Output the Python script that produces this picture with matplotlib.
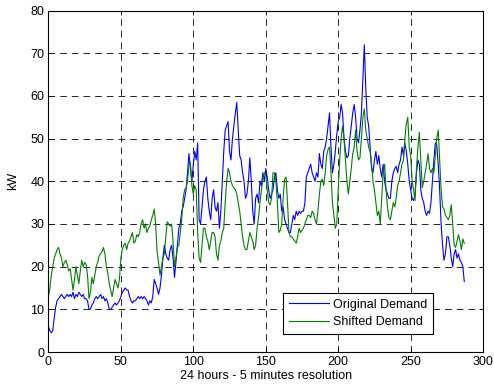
import matplotlib
matplotlib.use("Agg")
import matplotlib.pyplot as plt
import numpy as np

plt.rcParams['font.family'] = ['Liberation Sans', 'DejaVu Sans']

# 5 minute samples over 24 hours
original = [
    6, 5, 4.5, 5, 8, 10.5, 12, 12.5, 13, 13.5, 13, 12.5,
    13, 13.5, 13, 13.5, 13, 14, 12.5, 13.5, 13, 14, 13.5, 13,
    13.5, 12.5, 12.5, 12, 10, 10, 11, 11.5, 12.5, 13, 12.5, 13,
    13.5, 12.5, 13, 12, 12.5, 11.5, 10, 10, 10.5, 11, 11.5, 11,
    11.5, 12, 13, 14, 14.5, 15, 14.5, 14.5, 13, 12, 11.5, 12,
    12, 12.5, 13, 12.5, 13, 12.5, 13, 12.5, 12, 11, 12, 11.5,
    13, 17, 16, 15, 13.5, 15, 18, 22, 25, 23, 22, 21.5,
    24, 25, 22, 17.5, 21, 25, 29, 30, 33, 34, 36, 38,
    42, 46.5, 43, 40, 44, 47, 45, 49, 31, 30, 34, 38,
    40, 41, 36, 33, 31, 36, 38, 34, 33, 35, 29, 33,
    40, 47, 52, 53, 54, 47, 45, 50, 53, 56, 58.5, 52,
    46, 45, 42, 40, 36, 37, 40, 45.5, 40, 33, 30, 36,
    37, 35, 40, 39, 42, 40, 43, 41, 38, 36, 37, 38,
    41, 42, 38, 36, 37, 33, 34, 31, 30, 29, 28, 28,
    30, 32, 31, 33, 32, 33, 32.5, 33, 33, 35, 41, 42,
    43, 44, 42, 41, 40, 42, 41, 46.5, 44, 43, 47, 48,
    50, 53, 56, 48, 42, 44, 47, 51, 54, 55, 58, 56,
    50, 47, 45.5, 46, 50, 53, 56, 58, 55, 50, 49, 52,
    56, 64, 72, 62, 55, 53, 48, 43, 42, 45, 47, 44,
    46, 43, 41, 44, 40, 38, 37, 36, 36, 40, 42, 43,
    43.5, 42, 44, 45, 48, 46, 49, 47, 44, 40, 38, 36,
    35.5, 37, 42, 45, 44, 38, 36, 35, 33, 32, 33, 32.5,
    35, 40, 45, 49, 48.5, 44, 38, 30, 25, 21.5, 23, 27,
    27, 25, 22, 20, 23, 24, 22, 23, 21.5, 21, 20, 16.5,
]

shifted = [
    13, 15, 18, 20, 22, 23, 24, 24.5, 23, 22, 20, 21,
    21.5, 20.5, 19, 19.5, 17, 14.5, 17, 20, 18, 16, 19, 21.5,
    20, 21, 20.5, 18, 12.5, 14, 17.5, 16, 18, 20, 21, 22.5,
    23, 23.5, 24.5, 23, 20, 18.5, 16, 14.5, 13, 15, 17, 16,
    15, 17, 22, 24, 25, 25.5, 24, 25.5, 26, 27, 28, 25.5,
    26, 27.5, 27, 28, 30, 31, 29, 30, 28, 29, 29.5, 31,
    32, 33.5, 30, 23.5, 21, 18, 20, 22, 23, 27, 30.5, 30,
    29.5, 30, 26, 20, 22, 24.5, 25, 28, 31, 36, 38, 38.5,
    40, 44, 44.5, 39, 37, 39, 38, 28, 22, 21, 25, 29,
    29, 27, 26, 24, 26, 28, 28, 27, 23, 21.5, 25, 26,
    28, 29, 35, 40, 43, 42, 40, 39, 38.5, 38, 37, 35,
    33, 30, 27, 25, 24, 24, 26, 28, 27, 26, 24, 25,
    29, 31.5, 35, 38, 40.5, 42, 41.5, 38, 35, 34.5, 36, 42,
    42, 40, 35, 28, 28.5, 30, 36, 40.5, 41, 35, 28, 27,
    27, 26.5, 26, 25.5, 27, 29, 28, 28.5, 29, 30, 31, 32,
    32, 31.5, 33, 32.5, 31, 30, 33, 37, 40, 40.5, 39, 42,
    46, 47.5, 48, 42, 35, 32, 29, 30, 38, 45, 50, 53,
    50, 45, 40, 37, 40, 43, 46.5, 48, 52, 47, 45, 45.5,
    50, 55, 57, 52, 50, 48, 47, 44, 40, 38, 35, 32,
    33, 30, 36, 42, 44, 38, 34, 31.5, 31, 33, 35, 34,
    36, 39, 40, 42, 44, 45, 50, 53.5, 55, 48, 46, 40,
    38, 35.5, 43, 48, 51.5, 45, 38.5, 40, 42, 44, 46.5, 43,
    42, 43, 42, 46, 50, 52, 45, 38, 34, 33.5, 32, 31.5,
    31, 32, 34.5, 30, 25, 24.5, 26, 27.5, 26, 24, 26.5, 25.5,
]

x = np.arange(len(original))

fig = plt.figure(figsize=(4.94, 3.92), dpi=100)
ax = fig.add_axes([0.098, 0.102, 0.880, 0.871])

ax.plot(x, original, color='#0000ff', lw=0.8, label='Original Demand')
ax.plot(x, shifted, color='#008000', lw=0.8, label='Shifted Demand')

ax.set_xlim(0, 300)
ax.set_ylim(0, 80)
ax.set_xticks(range(0, 301, 50))
ax.set_yticks(range(0, 81, 10))
ax.grid(True, color='black', lw=0.6, linestyle=(0, (8, 6)))
ax.tick_params(direction='in', top=True, right=True, labelsize=9, length=3, width=0.6, pad=3)
for s in ax.spines.values():
    s.set_linewidth(0.8)

ax.set_xlabel('24 hours - 5 minutes resolution', fontsize=9, labelpad=1)
ax.set_ylabel('kW', fontsize=9, labelpad=8)

leg = ax.legend(loc='lower right', bbox_to_anchor=(0.885, 0.053), fontsize=9,
                fancybox=False, framealpha=1, edgecolor='black',
                handlelength=3.2, handletextpad=0.35, borderpad=0.45, labelspacing=0.45,
                borderaxespad=0)
leg.get_frame().set_linewidth(0.8)

fig.savefig('out.png', dpi=100)
